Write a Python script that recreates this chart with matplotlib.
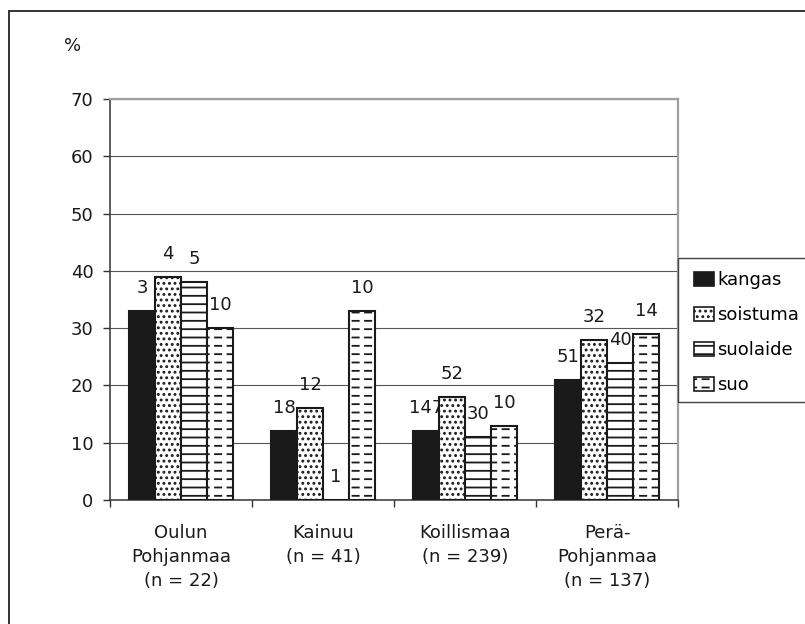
import warnings
import numpy as np
import matplotlib
matplotlib.use("Agg")
import matplotlib.pyplot as plt
from matplotlib import hatch as mhatch
from matplotlib.path import Path
from matplotlib.patches import Rectangle, Patch
from matplotlib.lines import Line2D

warnings.filterwarnings("ignore")

regions = ["Oulun\nPohjanmaa\n(n = 22)", "Kainuu\n(n = 41)",
           "Koillismaa\n(n = 239)", "Perä-\nPohjanmaa\n(n = 137)"]
series = ["kangas", "soistuma", "suolaide", "suo"]

kangas = [33, 12, 12, 21]
soistuma = [39, 16, 18, 28]
suolaide = [38, 0, 11, 24]
suo = [30, 33, 13, 29]

# counts printed above the bars
kangas_n = [3, 18, 147, 51]
soistuma_n = [4, 12, 52, 32]
suolaide_n = [5, 1, 30, 40]
suo_n = [10, 10, 10, 14]


# rows of short dashes, used as hatch "_"
class DashedRows(mhatch.HatchPatternBase):
    def __init__(self, hatch, density):
        self.rows = hatch.count('_') * 12
        self.cols = 8
        self.num_vertices = self.rows * self.cols * 2

    def set_vertices_and_codes(self, vertices, codes):
        ys = (np.arange(self.rows) + 0.5) / self.rows
        xs = (np.arange(self.cols) + 0.2) / self.cols
        x0, y0 = np.meshgrid(xs, ys)
        vertices[0::2, 0] = x0.ravel()
        vertices[0::2, 1] = y0.ravel()
        vertices[1::2, 0] = x0.ravel() + 0.5 / self.cols
        vertices[1::2, 1] = y0.ravel()
        codes[0::2] = Path.MOVETO
        codes[1::2] = Path.LINETO


mhatch._hatch_types.append(DashedRows)

plt.rcParams['font.family'] = ['DejaVu Sans']
plt.rcParams['font.size'] = 13
plt.rcParams['hatch.linewidth'] = 1.3
plt.rcParams['hatch.color'] = '#1a1a1a'

ink = '#1a1a1a'
styles = [dict(color=ink, hatch=None),
          dict(color='white', hatch='...'),
          dict(color='white', hatch='--'),
          dict(color='white', hatch='_')]

fig = plt.figure(figsize=(8.05, 6.24), dpi=100)
ax = fig.add_axes([110 / 805, 124 / 624, 568 / 805, 401 / 624])

x = np.arange(len(regions))
w = 0.183
values = [kangas, soistuma, suolaide, suo]
counts = [kangas_n, soistuma_n, suolaide_n, suo_n]

for i, (vals, ns, st) in enumerate(zip(values, counts, styles)):
    xs = x + (i - 1.5) * w
    ax.bar(xs, vals, width=w, color=st['color'], hatch=st['hatch'],
           edgecolor=ink, linewidth=1.5, zorder=3)
    for xx, v, n in zip(xs, vals, ns):
        ax.annotate(str(n), (xx, v), xytext=(0, 10), textcoords='offset points',
                    ha='center', va='bottom', color=ink)

ax.set_xlim(-0.5, 3.5)
ax.set_ylim(0, 70)
ax.set_yticks(range(0, 71, 10))
ax.set_xticks(x)
ax.set_xticklabels(regions, linespacing=1.45)
ax.set_xticks(np.arange(-0.5, 3.6, 1), minor=True)
ax.tick_params(axis='x', which='major', length=0, pad=17, colors=ink)
ax.tick_params(axis='x', which='minor', length=5, width=1, color='#333')
ax.tick_params(axis='y', length=5, width=1, color='#333', labelcolor=ink, pad=7)

ax.set_axisbelow(True)
ax.yaxis.grid(True, color='#555', linewidth=0.8)
for side in ['top', 'right']:
    ax.spines[side].set_color('#a0a0a0')
    ax.spines[side].set_linewidth(1.6)
for side in ['left', 'bottom']:
    ax.spines[side].set_color('#333')
    ax.spines[side].set_linewidth(1.1)

fig.text(73 / 805, 1 - 46 / 624, '%', ha='center', va='center', color=ink)

# legend box runs off the right edge
fig.patches.append(Rectangle((678 / 805, 222 / 624), 0.2, 144 / 624,
                             transform=fig.transFigure, facecolor='white',
                             edgecolor='#444', linewidth=1.0, zorder=5))
handles = [Patch(facecolor=st['color'], hatch=st['hatch'], edgecolor=ink,
                 linewidth=1.2) for st in styles]
leg = fig.legend(handles, series, loc='upper left',
                 bbox_to_anchor=(685 / 805, 1 - 262 / 624), frameon=False,
                 borderpad=0, handlelength=1.1, handleheight=0.85,
                 handletextpad=0.2, labelspacing=0.95)
leg.set_zorder(6)

# outer frame lines (left and top)
fig.add_artist(Line2D([9 / 805, 9 / 805], [0, 1 - 11 / 624],
                      transform=fig.transFigure, color='#333', linewidth=1.4))
fig.add_artist(Line2D([9 / 805, 1], [1 - 11 / 624, 1 - 11 / 624],
                      transform=fig.transFigure, color='#333', linewidth=1.4))

fig.savefig('out.png', dpi=100, facecolor='white')
